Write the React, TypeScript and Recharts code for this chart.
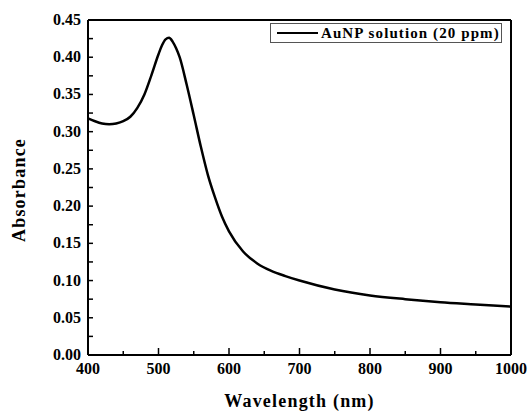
import { LineChart, Line, XAxis, YAxis, ReferenceLine, Legend } from "recharts";

// wavelength (nm) and absorbance
const wavelengths = [
  400, 410, 420, 430, 440, 450, 460, 470, 480, 490, 500, 505, 510, 515, 520, 525, 530, 540,
  550, 560, 570, 580, 590, 600, 620, 640, 660, 680, 700, 750, 800, 850, 900, 950, 1000,
];
const absorbance = [
  0.318, 0.314, 0.311, 0.31, 0.311, 0.314, 0.32, 0.332, 0.35, 0.376, 0.404, 0.416, 0.424,
  0.426, 0.421, 0.412, 0.4, 0.363, 0.322, 0.28, 0.242, 0.212, 0.186, 0.166, 0.139, 0.123,
  0.113, 0.106, 0.1, 0.088, 0.08, 0.075, 0.071, 0.068, 0.065,
];
const xTicks = [400, 450, 500, 550, 600, 650, 700, 750, 800, 850, 900, 950, 1000];
const yTicks = [
  0, 0.025, 0.05, 0.075, 0.1, 0.125, 0.15, 0.175, 0.2, 0.225, 0.25, 0.275, 0.3, 0.325,
  0.35, 0.375, 0.4, 0.425, 0.45,
];
const seriesName = "AuNP solution (20 ppm)";

const data = wavelengths.map((w, i) => ({ wl: w, abs: absorbance[i] }));

const FONT = "'Liberation Serif', 'Times New Roman', serif";

function XTick(props: any) {
  const { x, y, payload } = props;
  const major = payload.value % 100 === 0;
  return (
    <g>
      <line x1={x} y1={y} x2={x} y2={y - (major ? 7 : 4)} stroke="#000" strokeWidth={1.5} />
      {major && (
        <text x={x} y={y + 19} textAnchor="middle" fontFamily={FONT} fontWeight="bold" fontSize={16} fill="#000">
          {payload.value}
        </text>
      )}
    </g>
  );
}

function YTick(props: any) {
  const { x, y, payload } = props;
  const major = Math.round(payload.value * 1000) % 50 === 0;
  return (
    <g>
      <line x1={x} y1={y} x2={x + 5} y2={y} stroke="#000" strokeWidth={1.5} />
      {major && (
        <text x={x - 7} y={y + 5} textAnchor="end" fontFamily={FONT} fontWeight="bold" fontSize={16} fill="#000">
          {payload.value.toFixed(2)}
        </text>
      )}
    </g>
  );
}

function LegendBox() {
  return (
    <div
      style={{
        display: "flex",
        alignItems: "center",
        width: 230,
        height: 18,
        border: "1px solid #555",
        background: "#fff",
        boxSizing: "content-box",
        whiteSpace: "nowrap",
      }}
    >
      <div style={{ flex: "none", width: 41, height: 2.5, background: "#000", marginLeft: 6, marginRight: 3 }} />
      <span
        style={{
          flex: "none",
          fontFamily: FONT,
          fontWeight: "bold",
          fontSize: 15,
          letterSpacing: 1.1,
          color: "#000",
          lineHeight: "18px",
        }}
      >
        {seriesName}
      </span>
    </div>
  );
}

export default function App() {
  return (
    <div style={{ position: "absolute", left: 0, top: 0, background: "#fff" }}>
      <LineChart width={530} height={412} data={data} margin={{ top: 20, right: 19, left: 28, bottom: 0 }}>
        <XAxis
          dataKey="wl"
          type="number"
          domain={[400, 1000]}
          ticks={xTicks}
          interval={0}
          tickSize={0}
          tickMargin={0}
          tickLine={false}
          tick={<XTick />}
          axisLine={{ stroke: "#000", strokeWidth: 2 }}
          height={57}
          label={{
            value: "Wavelength (nm)",
            position: "insideBottom",
            offset: 5,
            style: { fontFamily: FONT, fontWeight: "bold", fontSize: 18, letterSpacing: 1.2, fill: "#000" },
          }}
        />
        <YAxis
          type="number"
          domain={[0, 0.45]}
          ticks={yTicks}
          interval={0}
          tickSize={0}
          tickMargin={0}
          tickLine={false}
          tick={<YTick />}
          axisLine={{ stroke: "#000", strokeWidth: 2 }}
          width={60}
          label={{
            content: () => (
              <text
                x={19}
                y={190}
                transform="rotate(-90 19 190)"
                textAnchor="middle"
                dominantBaseline="central"
                fontFamily={FONT}
                fontWeight="bold"
                fontSize={18}
                letterSpacing={1.2}
                fill="#000"
              >
                Absorbance
              </text>
            ),
          }}
        />
        <ReferenceLine y={0.45} stroke="#000" strokeWidth={2} />
        <ReferenceLine x={1000} stroke="#000" strokeWidth={2} />
        <Line
          type="monotone"
          dataKey="abs"
          name={seriesName}
          stroke="#000"
          strokeWidth={2.5}
          dot={false}
          isAnimationActive={false}
        />
        <Legend
          layout="horizontal"
          verticalAlign="middle"
          align="center"
          content={() => <LegendBox />}
          wrapperStyle={{ top: 23, left: 270, width: "auto", height: "auto" }}
        />
      </LineChart>
    </div>
  );
}
